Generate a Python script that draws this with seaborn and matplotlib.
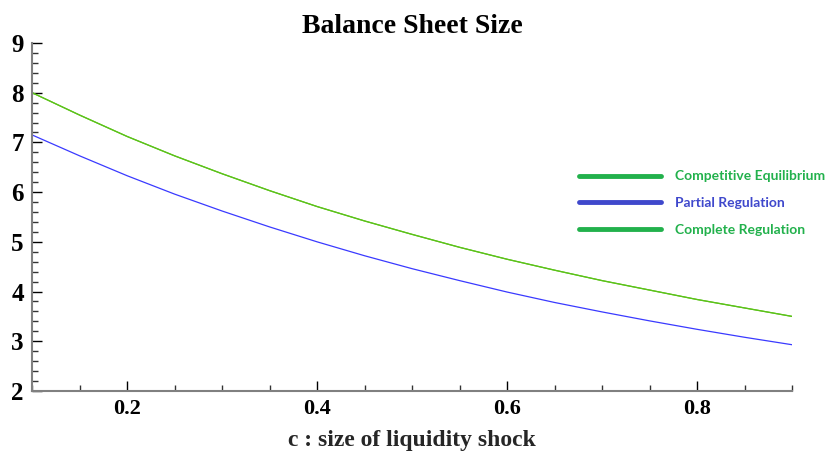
import numpy as np
import pandas as pd
import matplotlib
matplotlib.use("Agg")
import matplotlib.pyplot as plt
from matplotlib.lines import Line2D
from matplotlib.ticker import MultipleLocator
import seaborn as sns

# values
c_values = [0.10, 0.15, 0.20, 0.25, 0.30, 0.35, 0.40, 0.45, 0.50,
            0.55, 0.60, 0.65, 0.70, 0.75, 0.80, 0.85, 0.90]
competitive = [8.00, 7.55, 7.12, 6.73, 6.37, 6.03, 5.71, 5.42, 5.15,
               4.89, 4.65, 4.43, 4.22, 4.03, 3.84, 3.67, 3.50]
partial = [7.15, 6.73, 6.33, 5.96, 5.62, 5.30, 5.00, 4.72, 4.46,
           4.22, 3.99, 3.78, 3.59, 3.41, 3.24, 3.08, 2.93]
# complete regulation coincides with the competitive equilibrium
complete = list(competitive)

series_names = ["Competitive Equilibrium", "Partial Regulation", "Complete Regulation"]
line_colors = ["#5cc21a", "#3a3aff", "#5cc21a"]
legend_colors = ["#22b14c", "#3f48cc", "#22b14c"]

df = pd.DataFrame({
    "c": c_values * 3,
    "size": competitive + partial + complete,
    "series": [series_names[0]] * len(c_values)
    + [series_names[1]] * len(c_values)
    + [series_names[2]] * len(c_values),
})

sns.set_style("white")
plt.rcParams["font.family"] = ["Liberation Serif", "DejaVu Serif"]
plt.rcParams["text.color"] = "black"
plt.rcParams["xtick.color"] = "black"
plt.rcParams["ytick.color"] = "black"

fig = plt.figure(figsize=(8.25, 4.53), dpi=100)
ax = fig.add_axes([0.039, 0.137, 0.921, 0.768])

# draw partial first, then the green ones on top
order = [series_names[1], series_names[2], series_names[0]]
palette = dict(zip(series_names, line_colors))
sns.lineplot(data=df, x="c", y="size", hue="series", hue_order=order,
             palette=palette, linewidth=0.9, ax=ax, legend=False)

ax.set_xlim(0.1, 0.9)
ax.set_ylim(2, 9)
ax.xaxis.set_minor_locator(MultipleLocator(0.05))
ax.yaxis.set_minor_locator(MultipleLocator(0.2))
ax.set_xticks([0.2, 0.4, 0.6, 0.8])
ax.set_xticklabels(["0.2", "0.4", "0.6", "0.8"], fontsize=16, fontweight="bold")
ax.set_yticks(range(2, 10))
ax.set_yticklabels([str(v) for v in range(2, 10)], fontsize=18, fontweight="bold")

ax.tick_params(axis="both", which="both", bottom=True, left=True,
               direction="in")
ax.tick_params(axis="both", which="major", length=7, width=1, color="black")
ax.tick_params(axis="both", which="minor", length=4, width=1, color="#333333")
ax.tick_params(axis="x", which="major", pad=6)
ax.tick_params(axis="y", which="major", pad=6)

for side in ["top", "right"]:
    ax.spines[side].set_visible(False)
for side in ["left", "bottom"]:
    ax.spines[side].set_color("#808080")
    ax.spines[side].set_linewidth(1.5)

ax.set_xlabel("c : size of liquidity shock", fontsize=17, fontweight="bold",
              labelpad=8)
ax.set_ylabel("")
ax.set_title("Balance Sheet Size", fontsize=20, fontweight="bold", pad=7)

# legend
handles = [Line2D([0], [0], color=col, linewidth=3.5) for col in legend_colors]
leg = ax.legend(handles, series_names, loc="center left",
                bbox_to_anchor=(0.72, 0.54), frameon=False, borderpad=0,
                borderaxespad=0, handlelength=5.9, handletextpad=1.0,
                labelspacing=1.05,
                prop={"family": ["Lato", "DejaVu Sans"], "size": 10,
                      "weight": "bold"})
for text, col in zip(leg.get_texts(), legend_colors):
    text.set_color(col)

fig.savefig("out.png", dpi=100)
